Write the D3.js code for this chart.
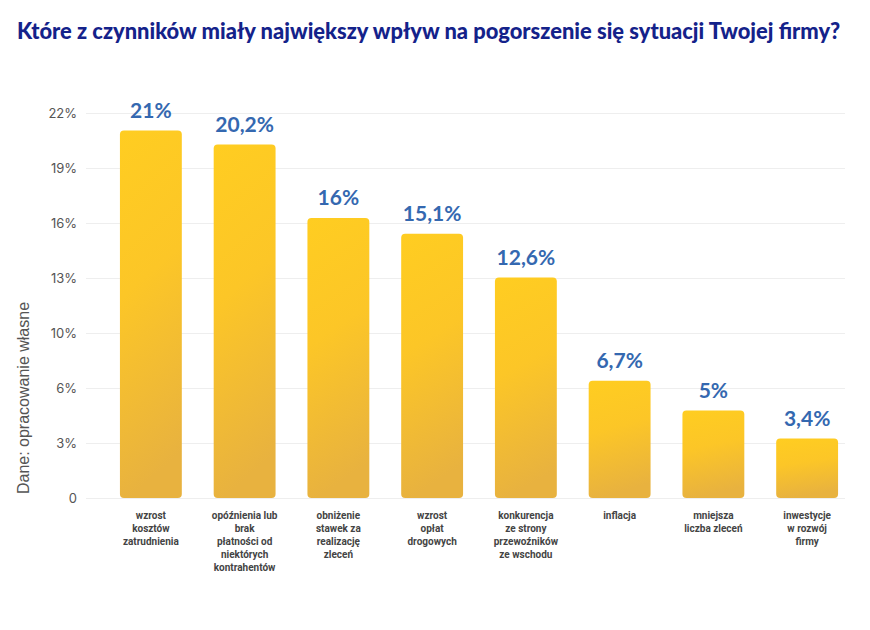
<!DOCTYPE html>
<html lang="pl">
<head>
<meta charset="UTF-8">
<title>Czynniki pogorszenia sytuacji firmy</title>
<script src="https://cdn.jsdelivr.net/npm/d3@7/dist/d3.min.js"></script>
<style>
  body { margin: 0; background: #fff; }
  svg { display: block; }
</style>
</head>
<body>
<svg id="chart" width="870" height="630"></svg>
<script>
    // data
    const categories = [
        ['wzrost', 'kosztów', 'zatrudnienia'],
        ['opóźnienia lub', 'brak', 'płatności od', 'niektórych', 'kontrahentów'],
        ['obniżenie', 'stawek za', 'realizację', 'zleceń'],
        ['wzrost', 'opłat', 'drogowych'],
        ['konkurencja', 'ze strony', 'przewoźników', 'ze wschodu'],
        ['inflacja'],
        ['mniejsza', 'liczba zleceń'],
        ['inwestycje', 'w rozwój', 'firmy']
    ];
    const values = [21, 20.2, 16, 15.1, 12.6, 6.7, 5, 3.4];
    const valueLabels = ['21%', '20,2%', '16%', '15,1%', '12,6%', '6,7%', '5%', '3,4%'];
    const tickLabels = ['0', '3%', '6%', '10%', '13%', '16%', '19%', '22%'];
    const yMax = 22;

    const svg = d3.select('#chart');

    const x = d3.scaleBand()
        .domain(d3.range(values.length))
        .range([104, 854])
        .paddingInner(0.34)
        .paddingOuter(0.17);

    const y = d3.scaleLinear().domain([0, yMax]).range([498, 113]);
    const tickValues = tickLabels.map((d, i) => i * yMax / (tickLabels.length - 1));

    // gradient for the bars
    const grad = svg.append('defs').append('linearGradient')
        .attr('id', 'barGrad')
        .attr('x1', 0).attr('y1', 0).attr('x2', 0.15).attr('y2', 1);
    grad.append('stop').attr('offset', '0%').attr('stop-color', '#ffcd21');
    grad.append('stop').attr('offset', '45%').attr('stop-color', '#fcc627');
    grad.append('stop').attr('offset', '100%').attr('stop-color', '#e8b23f');

    // title
    const title = svg.append('text')
        .attr('x', 17).attr('y', 39)
        .style('font-family', 'Lato, "Open Sans", sans-serif')
        .style('font-weight', '900')
        .style('font-size', '19px')
        .style('fill', '#14228a')
        .text('Które z czynników miały największy wpływ na pogorszenie się sytuacji Twojej firmy?');
    const tw = title.node().getComputedTextLength();
    title.style('font-size', (19 * 824 / tw) + 'px');

    // grid + axis
    const yAxis = d3.axisLeft(y)
        .tickValues(tickValues)
        .tickSize(-(845 - 86))
        .tickPadding(10)
        .tickFormat((d, i) => tickLabels[i]);

    const ga = svg.append('g')
        .attr('transform', 'translate(86,0)')
        .call(yAxis);
    ga.select('.domain').remove();
    ga.selectAll('.tick line').attr('stroke', '#eeeeee');
    ga.selectAll('.tick text')
        .attr('x', -9)
        .style('font-family', 'Inter, Roboto, sans-serif')
        .style('font-size', '13px')
        .style('fill', '#555');

    // y axis title
    svg.append('text')
        .attr('transform', 'translate(29,398) rotate(-90)')
        .attr('text-anchor', 'middle')
        .style('font-family', '"Liberation Sans", Arial, sans-serif')
        .style('font-size', '16px')
        .style('fill', '#555')
        .text('Dane: opracowanie własne');

    // bars
    svg.append('g').selectAll('rect')
        .data(values)
        .enter()
        .append('rect')
        .attr('x', (d, i) => x(i))
        .attr('y', d => y(d))
        .attr('width', x.bandwidth())
        .attr('height', d => y(0) - y(d))
        .attr('rx', 4).attr('ry', 4)
        .style('fill', 'url(#barGrad)');

    // value labels
    svg.append('g').selectAll('text')
        .data(values)
        .enter()
        .append('text')
        .attr('x', (d, i) => x(i) + x.bandwidth() / 2)
        .attr('y', d => y(d) - 13)
        .attr('text-anchor', 'middle')
        .style('font-family', 'Lato, "Open Sans", sans-serif')
        .style('font-weight', 'bold')
        .style('font-size', '21px')
        .style('fill', '#3468b0')
        .text((d, i) => valueLabels[i]);

    // category labels
    const cats = svg.append('g').selectAll('text')
        .data(categories)
        .enter()
        .append('text')
        .attr('text-anchor', 'middle')
        .attr('x', (d, i) => x(i) + x.bandwidth() / 2)
        .attr('y', 519)
        .style('font-family', 'Roboto, sans-serif')
        .style('font-weight', 'bold')
        .style('font-size', '10px')
        .style('fill', '#444');
    cats.selectAll('tspan')
        .data(d => d)
        .enter()
        .append('tspan')
        .attr('x', function () { return this.parentNode.getAttribute('x'); })
        .attr('dy', (d, i) => i === 0 ? 0 : 13)
        .text(d => d);
</script>
</body>
</html>
